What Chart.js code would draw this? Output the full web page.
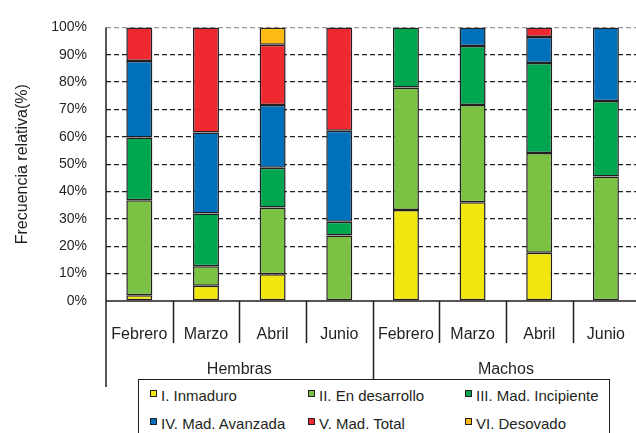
<!DOCTYPE html>
<html lang="es">
<head>
  <meta charset="UTF-8" />
  <title>Frecuencia relativa por estadio de madurez</title>
  <script src="https://cdn.jsdelivr.net/npm/chart.js"></script>
  <style>
    body {
      margin: 0;
      padding: 0;
      background: #fff;
      overflow: hidden;
      font-family: 'Liberation Sans', Arial, sans-serif;
      color: #231f20;
    }
    #wrap {
      position: relative;
      width: 641px;
      height: 433px;
    }
    #legend {
      position: absolute;
      left: 138px;
      top: 379px;
      width: 472px;
      height: 70px;
      border: 1px solid #231f20;
      background: #fff;
      box-sizing: border-box;
    }
    .item {
      position: absolute;
      font-size: 15px;
      line-height: 18px;
      white-space: nowrap;
    }
    .item i {
      position: absolute;
      left: -11px;
      top: 3px;
      width: 5px;
      height: 5px;
      border: 1px solid #231f20;
    }
  </style>
</head>
<body>
  <div id="wrap">
    <canvas id="chart" width="641" height="433"></canvas>
    <div id="legend"></div>
  </div>

  <script>
    const categories = ['Febrero', 'Marzo', 'Abril', 'Junio', 'Febrero', 'Marzo', 'Abril', 'Junio'];
    const groups = ['Hembras', 'Machos'];
    const yTicks = [0, 10, 20, 30, 40, 50, 60, 70, 80, 90, 100];

    const seriesNames = ['I. Inmaduro', 'II. En desarrollo', 'III. Mad. Incipiente',
                         'IV. Mad. Avanzada', 'V. Mad. Total', 'VI. Desovado'];
    const seriesColors = ['#f2e60f', '#7bc143', '#00a54f', '#0070bb', '#ee2a30', '#fdb914'];

    const inmaduro   = [2.1, 5.6, 9.8, 0, 33.3, 36.1, 17.6, 0];
    const desarrollo = [34.7, 7.1, 24.4, 23.9, 44.7, 35.5, 36.5, 45.5];
    const incipiente = [23.0, 19.3, 14.5, 5.1, 22.0, 21.6, 32.9, 27.6];
    const avanzada   = [27.9, 29.6, 22.9, 33.2, 0, 6.8, 9.5, 26.9];
    const total      = [12.3, 38.4, 22.1, 37.8, 0, 0, 3.5, 0];
    const desovado   = [0, 0, 6.3, 0, 0, 0, 0, 0];

    const seriesValues = [inmaduro, desarrollo, incipiente, avanzada, total, desovado];
    const ink = '#231f20';

    // axis lines, category separators and group names
    const framePlugin = {
      id: 'frame',
      afterDraw(chart) {
        const ctx = chart.ctx;
        const area = chart.chartArea;
        const w = (area.right - area.left) / categories.length;
        ctx.save();
        ctx.strokeStyle = ink;
        ctx.lineWidth = 1.5;
        ctx.beginPath();
        ctx.moveTo(area.left, area.top);
        ctx.lineTo(area.left, 387);
        ctx.moveTo(area.left, area.bottom);
        ctx.lineTo(area.right, area.bottom);
        for (let i = 1; i < categories.length; i++) {
          const px = Math.round(area.left + i * w) + 0.5;
          ctx.moveTo(px, area.bottom);
          ctx.lineTo(px, i === categories.length / 2 ? 379 : 343);
        }
        ctx.stroke();

        ctx.fillStyle = ink;
        ctx.font = '16px "Liberation Sans", Arial, sans-serif';
        ctx.textAlign = 'center';
        ctx.textBaseline = 'middle';
        const per = categories.length / groups.length;
        groups.forEach((g, k) => {
          const cx = area.left + (k * per + per / 2) * w;
          ctx.fillText(g, cx, 370);
        });
        ctx.restore();
      }
    };

    new Chart(document.getElementById('chart'), {
      type: 'bar',
      data: {
        labels: categories,
        datasets: seriesNames.map((name, i) => ({
          label: name,
          data: seriesValues[i],
          backgroundColor: seriesColors[i],
          borderColor: ink,
          borderWidth: 1.5,
          borderSkipped: false,
          barPercentage: 0.39,
          categoryPercentage: 1
        }))
      },
      options: {
        responsive: false,
        animation: false,
        layout: { padding: { top: 24, left: 0, right: 0, bottom: 0 } },
        plugins: {
          legend: { display: false },
          tooltip: { enabled: false }
        },
        scales: {
          x: {
            stacked: true,
            afterFit: s => { s.height = 132; },
            grid: { display: false },
            border: { display: false },
            ticks: {
              autoSkip: false,
              maxRotation: 0,
              padding: 16,
              color: ink,
              font: { size: 16, family: '"Liberation Sans", Arial, sans-serif' }
            }
          },
          y: {
            stacked: true,
            min: 0,
            max: 100,
            afterFit: s => { s.width = 106; },
            afterBuildTicks: s => { s.ticks = yTicks.map(v => ({ value: v })); },
            grid: {
              drawTicks: false,
              lineWidth: 1.3,
              color: c => c.tick.value === 100 ? '#999999' : (c.tick.value === 0 ? 'rgba(0,0,0,0)' : ink)
            },
            border: { display: false, dash: [5, 3] },
            title: {
              display: true,
              text: 'Frecuencia relativa(%)',
              color: ink,
              padding: { top: 13, bottom: 0 },
              font: { size: 16, family: '"Liberation Sans", Arial, sans-serif' }
            },
            ticks: {
              padding: 19,
              color: ink,
              font: { size: 14, family: '"Liberation Sans", Arial, sans-serif' },
              callback: v => v + '%'
            }
          }
        }
      },
      plugins: [framePlugin]
    });

    // legend box below the axis
    const legendBox = document.getElementById('legend');
    const colX = [22, 180, 337];
    const rowY = [7, 35];
    seriesNames.forEach((name, i) => {
      const el = document.createElement('div');
      el.className = 'item';
      el.style.left = colX[i % 3] + 'px';
      el.style.top = rowY[Math.floor(i / 3)] + 'px';
      el.innerHTML = '<i style="background:' + seriesColors[i] + '"></i>' + name;
      legendBox.appendChild(el);
    });
  </script>
</body>
</html>
